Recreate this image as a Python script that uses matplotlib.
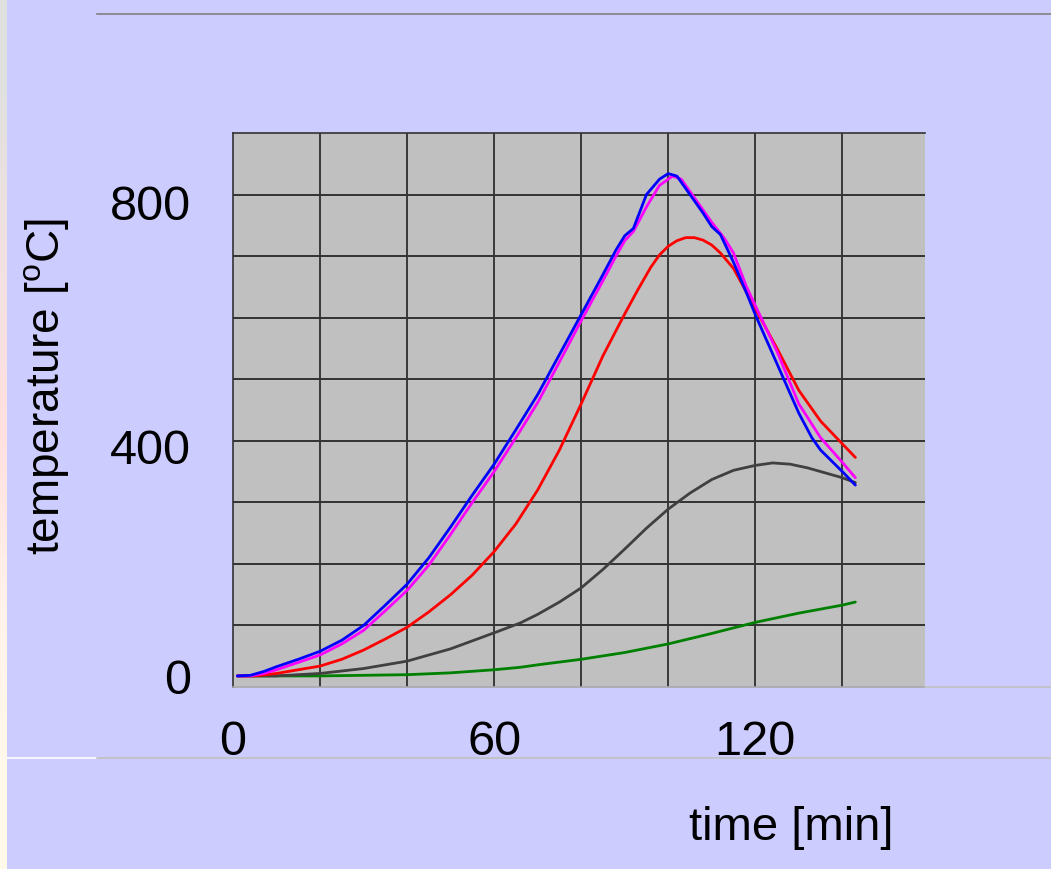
import matplotlib
matplotlib.use("Agg")
import matplotlib.pyplot as plt
import matplotlib.transforms as mtransforms
import numpy as np
from matplotlib.lines import Line2D

plt.rcParams['font.family'] = ['Liberation Sans', 'DejaVu Sans']
plt.rcParams['mathtext.fontset'] = 'custom'
plt.rcParams['mathtext.rm'] = 'Liberation Sans'

# curves (time in min, temperature in degC)
t_blue = [1, 4, 7, 10, 15, 20, 25, 30, 35, 40, 45, 50, 55, 60, 65, 70, 75, 80, 85, 88, 90, 92,
          95, 98, 100, 102, 105, 108, 110, 112, 115, 118, 120, 125, 130, 133, 135, 140, 143]
T_blue = [18, 19, 25, 33, 45, 58, 76, 100, 133, 167, 210, 260, 312, 362, 418, 475, 540, 605, 670, 710, 733, 745,
          800, 825, 834, 830, 800, 770, 748, 735, 690, 640, 605, 525, 445, 405, 385, 350, 328]

t_mag = [1, 4, 7, 10, 15, 20, 25, 30, 35, 40, 45, 50, 55, 60, 65, 70, 75, 80, 85, 88, 90, 92,
         95, 98, 101, 103, 105, 108, 110, 113, 115, 118, 120, 125, 130, 135, 140, 143]
T_mag = [18, 18, 22, 28, 40, 52, 70, 92, 124, 157, 198, 248, 300, 350, 405, 462, 528, 595, 660, 700, 725, 740,
         780, 815, 830, 825, 805, 775, 755, 728, 705, 650, 620, 545, 460, 405, 365, 340]

t_red = [1, 5, 10, 15, 20, 25, 30, 35, 40, 45, 50, 55, 60, 65, 70, 75, 80, 85, 90, 93, 96, 98, 100,
         102, 104, 106, 108, 110, 112, 115, 120, 125, 130, 135, 140, 143]
T_red = [18, 18, 22, 28, 34, 45, 60, 78, 97, 122, 150, 182, 220, 265, 320, 385, 460, 538, 606, 645, 682, 702, 716,
         725, 730, 730, 726, 718, 705, 680, 615, 550, 482, 432, 395, 373]

t_gray = [1, 10, 20, 30, 40, 50, 60, 66, 70, 75, 80, 85, 90, 95, 100, 105, 110, 115, 120,
          124, 128, 132, 136, 140, 143]
T_gray = [18, 18, 22, 30, 42, 62, 88, 104, 118, 138, 161, 191, 224, 258, 289, 315, 337, 352, 360,
          364, 362, 356, 348, 340, 332]

t_green = [1, 20, 40, 50, 60, 66, 70, 80, 90, 100, 110, 120, 130, 140, 143]
T_green = [18, 18, 20, 23, 28, 32, 36, 45, 56, 70, 87, 105, 120, 133, 138]

x_ticks = [0, 60, 120]
y_ticks = [0, 400, 800]

bg = '#ccccff'
fig = plt.figure(figsize=(10.51, 8.69), dpi=100, facecolor=bg)

# left edge strip of the slide
strip = fig.add_axes([0, 0, 7 / 1051, 1])
grad = np.array([[0.88, 0.88, 0.88], [0.95, 0.88, 0.88], [1.0, 0.88, 0.88], [1.0, 0.95, 0.92], [1.0, 0.98, 0.92]])
strip.imshow(grad[:, None, :], aspect='auto', extent=[0, 1, 0, 1], interpolation='bilinear')
strip.axis('off')

ax = fig.add_axes([233 / 1051, 1 - 687 / 869, 692 / 1051, 554 / 869])
ax.set_facecolor('#c0c0c0')
ax.set_xlim(0, 159)
ax.set_ylim(0, 900)

for xv in range(20, 160, 20):
    ax.axvline(xv, color='#222222', lw=1.2, zorder=1)
for yv in range(100, 900, 100):
    ax.axhline(yv, color='#333333', lw=1.4, zorder=1)

kw = dict(lw=2.0, solid_joinstyle='round', solid_capstyle='round')
ax.plot(t_green, T_green, color='#008000', zorder=3, **kw)
ax.plot(t_gray, T_gray, color='#404040', zorder=3, **kw)
ax.plot(t_red, T_red, color='#ff0000', zorder=3, **kw)
ax.plot(t_mag, T_mag, color='#ff00ff', zorder=3, **kw)
ax.plot(t_blue, T_blue, color='#0000ff', zorder=4, **kw)

for s in ['left', 'top']:
    ax.spines[s].set_color('#333333')
    ax.spines[s].set_linewidth(1.2)
ax.spines['right'].set_visible(False)
ax.spines['bottom'].set_color('#a8a8a8')
ax.spines['bottom'].set_linewidth(1.2)

ax.set_xticks(x_ticks)
ax.set_yticks(y_ticks)
ax.tick_params(length=0, labelsize=35)
ax.tick_params(axis='y', pad=30)
ax.tick_params(axis='x', pad=24)

# the y labels on the slide sit a little off their grid lines
shifts = [10, -6, -8]
for lab, dy in zip(ax.get_yticklabels(), shifts):
    lab.set_transform(lab.get_transform() + mtransforms.ScaledTranslation(0, dy / 100, fig.dpi_scale_trans))

fig.text(47 / 1051, 1 - 387 / 869, r'temperature [$^{\mathrm{o}}$C]', rotation=90,
         fontsize=33, ha='center', va='center')
fig.text(791 / 1051, 1 - 828 / 869, 'time [min]', fontsize=34, ha='center', va='center')

# slide decoration lines
fig.add_artist(Line2D([97 / 1051, 1], [1 - 14 / 869] * 2, color='#808080', lw=1.2))
fig.add_artist(Line2D([7 / 1051, 97 / 1051], [1 - 758 / 869] * 2, color='white', lw=1.2))
fig.add_artist(Line2D([97 / 1051, 1], [1 - 758 / 869] * 2, color='#c0c0c0', lw=1.2))
fig.add_artist(Line2D([925 / 1051, 1], [1 - 687 / 869] * 2, color='#c0c0c0', lw=1.2))

fig.savefig('out.png', dpi=100, facecolor=bg)
